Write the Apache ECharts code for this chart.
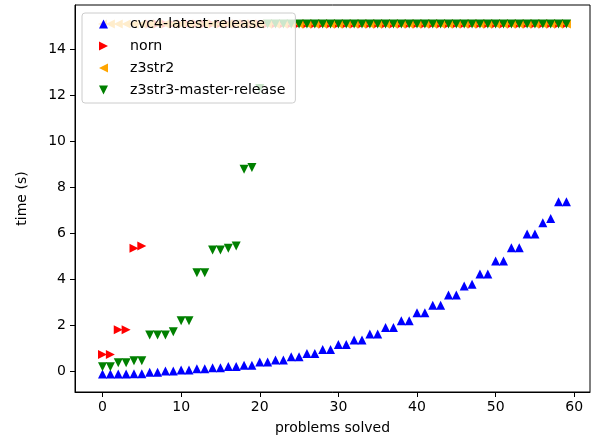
<!DOCTYPE html>
<html>
<head>
<meta charset="utf-8">
<script src="https://cdn.jsdelivr.net/npm/echarts@6/dist/echarts.min.js"></script>
<style>html,body{margin:0;padding:0;background:#fff}#c{width:595px;height:443px}</style>
</head>
<body>
<div id="c"></div>
<script>
// y values indexed by problem number (x = index)
const cvc4Values = [-0.13,-0.13,-0.13,-0.13,-0.12,-0.12,-0.05,-0.05,0.0,0.0,
  0.05,0.05,0.1,0.1,0.14,0.14,0.2,0.2,0.25,0.25,
  0.39,0.39,0.48,0.48,0.62,0.62,0.77,0.77,0.94,0.94,
  1.16,1.16,1.35,1.35,1.61,1.61,1.90,1.90,2.19,2.19,
  2.54,2.54,2.87,2.87,3.31,3.31,3.70,3.78,4.22,4.22,
  4.79,4.79,5.37,5.37,5.96,5.96,6.45,6.64,7.37,7.37];
const nornValues = [0.72,0.72,1.8,1.8,5.34,5.44,
  15.1,15.1,15.1,15.1,15.1,15.1,15.1,15.1,15.1,15.1,15.1,15.1,15.1,15.1,
  15.1,15.1,15.1,15.1,15.1,15.1,15.1,15.1,15.1,15.1,15.1,15.1,15.1,15.1,
  15.1,15.1,15.1,15.1,15.1,15.1,15.1,15.1,15.1,15.1,15.1,15.1,15.1,15.1,
  15.1,15.1,15.1,15.1,15.1,15.1,15.1,15.1,15.1,15.1,15.1,15.1];
const z3str2Values = [15.1,15.1,15.1,15.1,15.1,15.1,15.1,15.1,15.1,15.1,
  15.1,15.1,15.1,15.1,15.1,15.1,15.1,15.1,15.1,15.1,
  15.1,15.1,15.1,15.1,15.1,15.1,15.1,15.1,15.1,15.1,
  15.1,15.1,15.1,15.1,15.1,15.1,15.1,15.1,15.1,15.1,
  15.1,15.1,15.1,15.1,15.1,15.1,15.1,15.1,15.1,15.1,
  15.1,15.1,15.1,15.1,15.1,15.1,15.1,15.1,15.1,15.1];
const z3str3Values = [0.19,0.19,0.36,0.36,0.45,0.45,1.57,1.57,1.57,1.71,
  2.19,2.19,4.28,4.28,5.27,5.27,5.34,5.44,8.78,8.86,
  12.3,15.1,15.1,15.1,15.1,15.1,15.1,15.1,15.1,15.1,
  15.1,15.1,15.1,15.1,15.1,15.1,15.1,15.1,15.1,15.1,
  15.1,15.1,15.1,15.1,15.1,15.1,15.1,15.1,15.1,15.1,
  15.1,15.1,15.1,15.1,15.1,15.1,15.1,15.1,15.1,15.1];
const seriesNames = ['cvc4-latest-release','norn','z3str2','z3str3-master-release'];
const xTicks = [0,10,20,30,40,50,60];
const yTicks = [0,2,4,6,8,10,12,14];

const toPoints = vals => vals.map((v, i) => [i, v]);
const FONT = 'DejaVu Sans';
const UP = 'path://M5,0L10,10L0,10Z';
const DOWN = 'path://M0,0L10,0L5,10Z';
const RIGHT = 'path://M0,0L10,5L0,10Z';
const LEFT = 'path://M10,0L0,5L10,10Z';

const chart = echarts.init(document.getElementById('c'), null, {renderer: 'canvas'});
function sc(name, vals, sym, color) {
  return {
    name: name, type: 'scatter', data: toPoints(vals),
    symbol: sym, symbolSize: 9,
    itemStyle: {color: color, opacity: 1},
    emphasis: {disabled: true}, animation: false
  };
}
chart.setOption({
  animation: false,
  grid: {left: 75, top: 5, right: 5, bottom: 51, show: true, borderColor: '#000', borderWidth: 1, backgroundColor: 'transparent'},
  xAxis: {
    type: 'value', min: -3.5, max: 62,
    name: 'problems solved', nameLocation: 'middle', nameGap: 29,
    nameTextStyle: {fontFamily: FONT, fontSize: 14, color: '#000'},
    axisLine: {show: true, onZero: false, lineStyle: {color: '#000', width: 1}},
    axisTick: {show: true, length: 5, lineStyle: {color: '#000'}, customValues: xTicks},
    axisLabel: {fontFamily: FONT, fontSize: 14, color: '#000', margin: 8, customValues: xTicks},
    splitLine: {show: false}
  },
  yAxis: {
    type: 'value', min: -0.91, max: 15.93,
    name: 'time (s)', nameLocation: 'middle', nameGap: 46,
    nameTextStyle: {fontFamily: FONT, fontSize: 14, color: '#000'},
    axisLine: {show: true, onZero: false, lineStyle: {color: '#000', width: 1}},
    axisTick: {show: true, length: 5, lineStyle: {color: '#000'}, customValues: yTicks},
    axisLabel: {fontFamily: FONT, fontSize: 14, color: '#000', margin: 9, customValues: yTicks},
    splitLine: {show: false}
  },
  legend: {
    orient: 'vertical', left: 82, top: 13,
    padding: [3, 10, 5, 17],
    itemWidth: 9, itemHeight: 9, itemGap: 6,
    backgroundColor: 'rgba(255,255,255,0.8)', borderColor: '#cccccc', borderWidth: 1, borderRadius: 3,
    textStyle: {fontFamily: FONT, fontSize: 14.2, lineHeight: 16, color: '#000', padding: [0, 0, 0, 17]},
    data: seriesNames, selectedMode: false
  },
  series: [
    sc(seriesNames[0], cvc4Values, UP, '#0000ff'),
    sc(seriesNames[1], nornValues, RIGHT, '#ff0000'),
    sc(seriesNames[2], z3str2Values, LEFT, '#ffa500'),
    sc(seriesNames[3], z3str3Values, DOWN, '#008000')
  ]
});
</script>
</body>
</html>
